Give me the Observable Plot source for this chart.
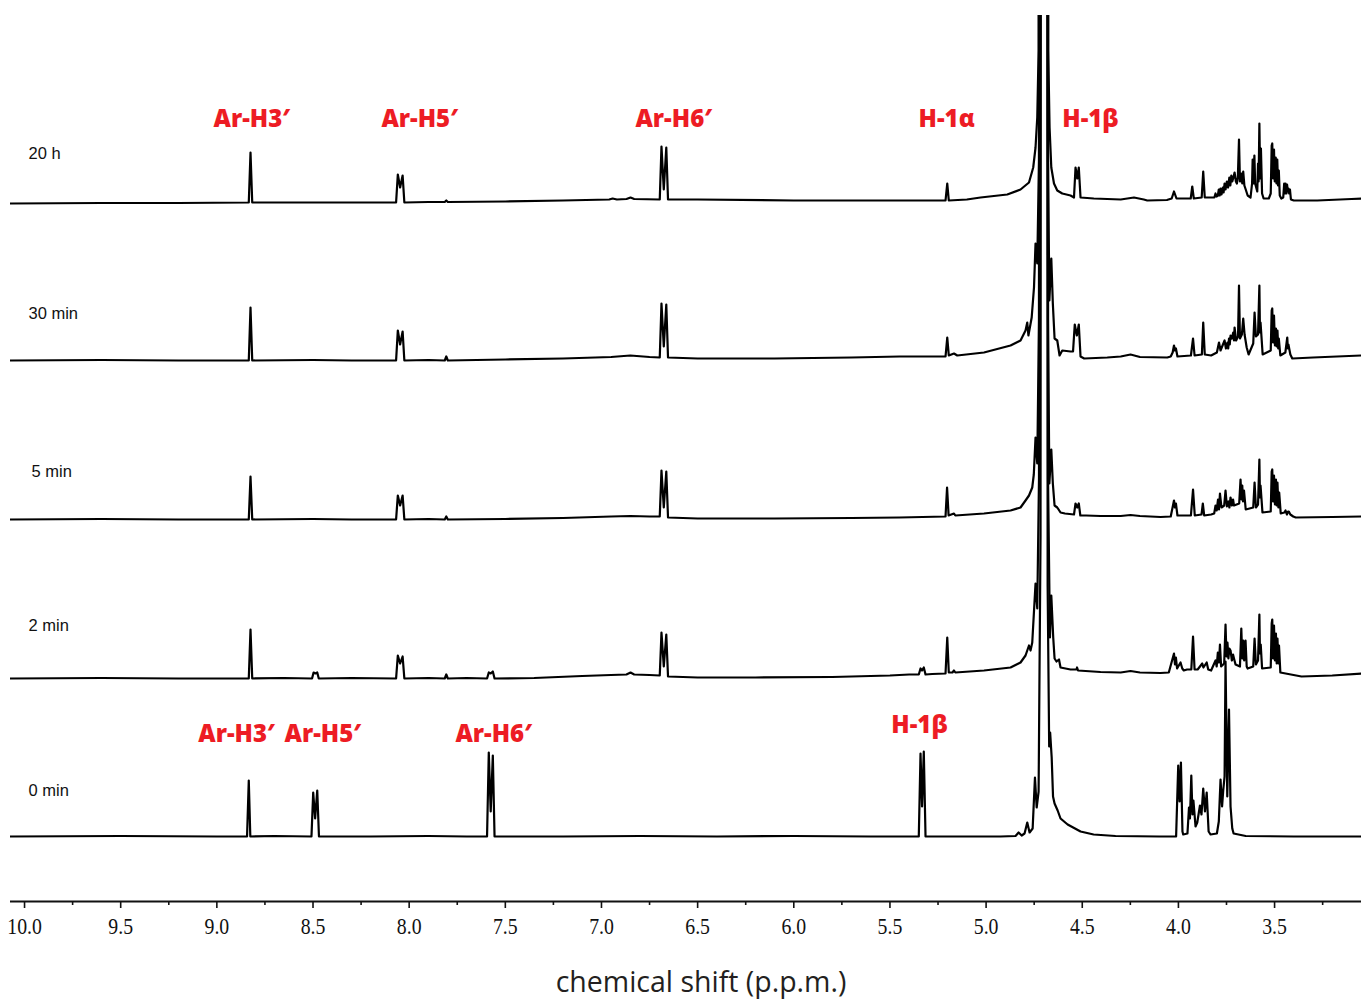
<!DOCTYPE html>
<html><head><meta charset="utf-8">
<script src="https://cdn.jsdelivr.net/npm/d3@7"></script>
<script src="https://cdn.jsdelivr.net/npm/@observablehq/plot@0.6"></script>
<style>html,body{margin:0;padding:0;background:#fff;} #chart{width:1361px;height:999px;overflow:hidden;}</style>
</head><body><div id="chart"></div>
<script>
// Spectrum names (bottom to top)
const spectrumNames = ["0 min", "2 min", "5 min", "30 min", "20 h"];

// Each spectrum: [chemical shift (ppm), intensity]
const spec0min = [
  [10.073,0],[9.5,0.5],[9.0,0],[8.843,0],[8.834,56],[8.826,0],[8.7,0.5],
  [8.508,0],[8.499,44],[8.489,18],[8.478,46],[8.469,0],[8.2,0],[7.9,0.5],[7.7,0],
  [7.595,0],[7.586,84],[7.576,25],[7.565,81],[7.556,0],[7.2,0],[6.8,0.5],[6.4,0],[6.0,0.5],[5.6,0],
  [5.350,0],[5.341,83],[5.333,30],[5.324,85],[5.315,0],[5.1,0],[4.925,0],
  [4.847,0.5],[4.831,4],[4.815,1],[4.800,3],[4.786,14],[4.774,4],[4.758,8],[4.746,59],[4.737,29],
  [4.727,45],[4.717,300],[4.709,3000],[4.688,3000],[4.680,250],[4.672,90],[4.667,104],[4.659,79],
  [4.652,40],[4.644,33],[4.628,26],[4.613,18],[4.576,12],[4.509,5],[4.441,2],[4.327,0.5],[4.1,0],
  [4.012,0],[4.001,71],[3.994,35],[3.987,74],[3.979,5],[3.975,2],[3.953,3],[3.945,29],[3.940,18],
  [3.933,61],[3.927,22],[3.922,36],[3.911,10],[3.902,14],[3.888,31],[3.880,22],[3.871,48],[3.862,25],
  [3.853,44],[3.843,5],[3.833,2],[3.800,3],[3.790,15],[3.781,57],[3.773,30],[3.767,46],[3.760,60],
  [3.755,175],[3.746,40],[3.737,127],[3.729,30],[3.720,8],[3.713,3],[3.65,0.5],[3.4,0],[3.048,0]
];
const spec2min = [
  [10.073,0],[9.6,0.5],[9.2,0],[8.834,0],[8.825,49],[8.816,0],[8.65,0.5],
  [8.505,0],[8.497,6],[8.487,5],[8.478,6],[8.470,0],[8.30,0.5],
  [8.068,0],[8.059,23],[8.047,15],[8.034,22],[8.025,0],[7.90,0.5],[7.815,0],[7.807,4],[7.799,0],[7.70,0.5],
  [7.595,0],[7.586,6],[7.576,5],[7.565,7],[7.556,0],[7.35,0.5],[7.10,2.5],[6.95,3.5],[6.87,4],[6.849,6],[6.83,4],
  [6.75,3.5],[6.697,3],[6.688,46],[6.676,12],[6.663,44],[6.654,2],[6.5,1],[6.2,1],[5.8,1.5],[5.5,3],[5.40,4],
  [5.350,4],[5.341,10],[5.333,8],[5.324,11],[5.315,4],[5.28,4.5],[5.211,5],[5.202,41],[5.194,6],
  [5.175,6],[5.167,8],[5.160,6],[5.011,8],[4.873,11],[4.821,16],[4.795,23],[4.777,33],[4.769,28],[4.760,36],
  [4.743,95],[4.734,70],[4.725,200],[4.719,3000],[4.683,3000],[4.678,200],[4.668,41],[4.661,83],[4.651,41],
  [4.644,20],[4.634,17],[4.621,19],[4.613,11],[4.561,9],[4.530,9],[4.527,11],[4.522,8],[4.405,6.5],
  [4.30,6],[4.249,7.5],[4.20,6],[4.093,5.5],[4.050,6],[4.023,25],[4.018,14],[4.013,21],[4.007,10],
  [3.989,16],[3.980,10],[3.972,8],[3.955,9],[3.933,9],[3.924,42],[3.916,9],[3.900,9],[3.876,15],[3.870,11],
  [3.853,16],[3.845,9],[3.830,8],[3.807,18],[3.801,12],[3.795,26],[3.789,16],[3.784,34],[3.778,12],[3.762,15],
  [3.755,54],[3.750,22],[3.745,36],[3.740,20],[3.735,30],[3.729,28],[3.722,18],[3.716,24],[3.711,20],[3.703,14],
  [3.680,12],[3.673,50],[3.668,20],[3.663,38],[3.658,18],[3.651,38],[3.645,12],
  [3.640,10],[3.611,12],[3.604,40],[3.597,14],[3.586,18],[3.579,64],[3.576,25],[3.572,34],[3.565,10],
  [3.520,11],[3.515,55],[3.512,59],[3.508,20],[3.503,53],[3.498,18],[3.493,45],[3.489,15],[3.485,40],
  [3.480,15],[3.477,33],[3.470,6],[3.36,2],[3.2,3],[3.048,5]
];
const spec5min = [
  [10.073,0],[9.6,0.5],[9.2,0],[8.834,0],[8.825,43],[8.816,0],[8.5,0.5],[8.3,0],
  [8.068,0],[8.059,24],[8.047,14],[8.034,24],[8.025,0],[7.90,0.5],[7.815,0],[7.807,3],[7.799,0],[7.5,0.5],
  [7.2,1.5],[6.95,3],[6.85,3.5],[6.75,3],[6.697,3],[6.688,49],[6.676,12],[6.663,48],[6.654,2],[6.5,1],
  [6.1,1],[5.7,1.5],[5.45,2],[5.211,3],[5.203,32],[5.195,4],[5.167,6],[5.160,4],[5.011,6],[4.873,9],
  [4.821,12],[4.795,19],[4.777,24],[4.760,32],[4.752,45],[4.743,82],[4.734,56],[4.725,200],[4.719,3000],
  [4.683,3000],[4.678,200],[4.671,36],[4.661,70],[4.653,36],[4.644,14],[4.630,12],[4.613,7],[4.590,6],
  [4.543,5],[4.535,16],[4.526,12],[4.518,16],[4.510,4],[4.48,4],[4.405,3.5],[4.30,3.5],[4.249,4.5],[4.20,3.5],
  [4.093,2.5],[4.040,3],[4.023,19],[4.018,12],[4.013,16],[4.005,4],[3.935,4],[3.924,30],[3.915,4],
  [3.880,5],[3.873,16],[3.866,4],[3.830,5],[3.814,6],[3.807,14],[3.801,9],[3.794,20],[3.789,10],[3.784,26],[3.776,12],
  [3.762,14],[3.755,29],[3.748,13],[3.740,18],[3.735,12],[3.729,22],[3.722,14],[3.716,20],[3.711,14],
  [3.684,16],[3.677,40],[3.672,20],[3.668,34],[3.664,18],[3.659,29],[3.650,10],
  [3.611,12],[3.604,37],[3.597,12],[3.586,15],[3.579,60],[3.576,22],[3.573,34],[3.563,7],
  [3.520,8],[3.515,48],[3.512,50],[3.508,18],[3.503,44],[3.498,15],[3.493,40],[3.489,14],[3.485,37],
  [3.480,12],[3.476,27],[3.468,6],[3.449,7],[3.443,9],[3.436,5],[3.430,8],[3.426,8],[3.418,5],
  [3.403,3],[3.39,2],[3.2,2.5],[3.048,3]
];
const spec30min = [
  [10.073,0],[9.6,0.5],[9.2,0],[8.834,0],[8.825,53],[8.816,0],[8.5,0.5],[8.3,0],
  [8.068,0],[8.059,30],[8.047,16],[8.034,29],[8.025,0],[7.90,0.5],[7.815,0],[7.807,4],[7.799,0],[7.5,1],
  [7.2,2],[6.95,3.5],[6.85,5],[6.75,3.5],[6.697,3],[6.688,57],[6.676,14],[6.663,56],[6.654,3],[6.5,2],
  [6.1,2],[5.7,3],[5.45,4],[5.211,4],[5.202,23],[5.194,5],[5.167,7],[5.15,5],[5.011,8],[4.873,15],
  [4.821,20],[4.795,30],[4.786,38],[4.780,25],[4.763,43],[4.751,73],[4.743,117],[4.734,97],[4.725,200],
  [4.719,3000],[4.683,3000],[4.678,200],[4.671,60],[4.661,102],[4.653,57],[4.644,22],[4.630,20],[4.618,5],
  [4.604,10],[4.561,9],[4.548,9],[4.539,36],[4.528,25],[4.518,36],[4.509,4],[4.49,2],[4.370,3],[4.30,4],
  [4.249,6],[4.20,3.5],[4.058,3],[4.040,4],[4.030,8],[4.023,15],[4.018,10],[4.013,12],[4.005,4],
  [3.935,5],[3.924,22],[3.916,5],[3.878,6],[3.871,38],[3.863,6],[3.830,5],[3.800,8],[3.789,18],[3.781,10],
  [3.760,20],[3.753,12],[3.745,18],[3.741,12],[3.737,22],[3.733,16],[3.729,25],[3.722,22],[3.715,28],[3.711,20],
  [3.708,33],[3.700,20],[3.690,24],[3.685,75],
  [3.680,22],[3.670,26],[3.663,42],[3.656,26],[3.645,13],[3.635,6],[3.611,17],[3.604,48],[3.597,24],
  [3.586,26],[3.579,75],[3.576,28],[3.573,38],[3.562,6],
  [3.520,10],[3.515,50],[3.512,52],[3.508,18],[3.503,45],[3.498,15],[3.493,32],[3.489,14],[3.485,30],
  [3.481,12],[3.478,22],[3.470,5],[3.444,8],[3.434,23],[3.431,12],[3.428,16],[3.418,6],[3.408,2],[3.30,3],[3.048,5]
];
const spec20h = [
  [10.073,0],[9.6,0.5],[9.2,0.5],[8.834,1],[8.825,51],[8.816,1],[8.5,1],[8.3,1],
  [8.068,1],[8.059,29],[8.047,16],[8.034,28],[8.025,1],[7.90,1.5],[7.815,1.5],[7.807,3],[7.799,1.5],[7.5,2],
  [7.2,3],[6.96,4],[6.942,5],[6.92,4],[6.87,4.5],[6.849,6],[6.83,4.5],[6.697,4],[6.688,57],[6.676,14],
  [6.663,56],[6.654,4],[6.5,4],[6.0,3],[5.5,3],[5.211,3],[5.202,20],[5.194,3],[5.10,4],[5.029,6],
  [4.890,9],[4.821,14],[4.777,21],[4.755,36],[4.743,56],[4.734,86],[4.727,153],[4.724,3000],[4.679,3000],
  [4.677,153],[4.670,76],[4.661,36],[4.647,20],[4.630,13],[4.604,10],[4.561,8],[4.543,6],[4.535,36],
  [4.526,25],[4.518,36],[4.509,6],[4.440,5],[4.30,4],[4.231,6],[4.18,4],[4.162,3],[4.06,3.5],[4.035,5],
  [4.023,12],[4.010,5],[3.936,5],[3.928,17],[3.920,5],[3.879,6],[3.871,32],[3.863,6],[3.830,6],[3.813,6],
  [3.807,10],[3.802,7],[3.795,8],[3.790,14],[3.786,8],[3.781,15],[3.776,9],[3.769,16],[3.765,11],
  [3.760,20],[3.755,14],[3.748,22],[3.742,16],[3.735,26],[3.730,18],[3.725,28],[3.720,22],[3.714,26],
  [3.708,31],[3.701,22],[3.696,20],[3.691,26],[3.685,64],[3.680,22],[3.673,30],[3.668,20],[3.663,32],
  [3.657,18],[3.650,14],[3.640,8],[3.625,6],[3.617,20],[3.614,44],[3.610,20],[3.605,48],[3.601,20],
  [3.590,12],[3.586,40],[3.583,22],[3.579,80],[3.575,25],[3.571,55],[3.565,10],[3.557,5],[3.530,5],
  [3.520,10],[3.515,58],[3.512,60],[3.508,25],[3.503,54],[3.499,22],[3.494,46],[3.490,20],[3.486,44],
  [3.482,18],[3.478,33],[3.473,8],[3.465,5],[3.455,6],[3.450,20],[3.446,10],[3.443,20],[3.438,10],
  [3.435,19],[3.431,12],[3.428,15],[3.424,10],[3.420,14],[3.415,4],[3.40,3],[3.278,3],[3.10,4.5],[3.048,5]
];

// Axis ticks
const majorTicks = [10.0, 9.5, 9.0, 8.5, 8.0, 7.5, 7.0, 6.5, 6.0, 5.5, 5.0, 4.5, 4.0, 3.5];
const minorTicks = [9.75, 9.25, 8.75, 8.25, 7.75, 7.25, 6.75, 6.25, 5.75, 5.25, 4.75, 4.25, 3.75, 3.25];

// Peak assignments
const topLabels = ["Ar-H3\u2032", "Ar-H5\u2032", "Ar-H6\u2032", "H-1\u03b1", "H-1\u03b2"];
const topLabelShifts = [8.819, 7.946, 6.625, 5.205, 4.457];
const bottomLabels = ["Ar-H3\u2032", "Ar-H5\u2032", "Ar-H6\u2032", "H-1\u03b2"];
const bottomLabelShifts = [8.898, 8.450, 7.561, 5.346];

// ---- layout ----
const stackStep = [0, 158, 317, 476, 633];      // vertical offset of each trace
const nameLift = [46, 53, 48, 47, 50];           // name label height above trace
const nameDx = [18, 18, 21, 18, 18];
const topLabelY = 717, bottomLabelY = [102, 102, 102, 111];
const xDomain = [10.073, 3.048];
const yDomain = [-65, 821];

const spectra = [spec0min, spec2min, spec5min, spec30min, spec20h];
const rows = spectra.flatMap((pts, i) => pts.map(([ppm, v]) => ({series: spectrumNames[i], ppm, y: v + stackStep[i]})));
const nameRows = spectrumNames.map((n, i) => ({name: n, y: stackStep[i] + nameLift[i], dx: nameDx[i]}));
const labelRows = topLabels.map((t, i) => ({t, x: topLabelShifts[i], y: topLabelY}))
  .concat(bottomLabels.map((t, i) => ({t, x: bottomLabelShifts[i], y: bottomLabelY[i]})));

const chart = Plot.plot({
  width: 1361, height: 999,
  marginLeft: 10, marginRight: 0, marginTop: 15, marginBottom: 98,
  x: {domain: xDomain, label: null},
  y: {domain: yDomain, axis: null, label: null},
  style: {background: "white", fontFamily: "'Liberation Serif', serif", overflow: "visible"},
  marks: [
    Plot.line(rows, {x: "ppm", y: "y", z: "series", stroke: "black", strokeWidth: 2.2, clip: true, strokeLinejoin: "round"}),
    Plot.ruleY([yDomain[0]], {stroke: "#111", strokeWidth: 2.2}),
    Plot.axisX({ticks: majorTicks, tickSize: 7, tickPadding: 9, tickFormat: d3.format(".1f"), fontSize: 23, strokeWidth: 1.6, stroke: "#111", fill: "#111", label: null}),
    Plot.axisX({ticks: minorTicks, tickSize: 4, tickFormat: () => "", strokeWidth: 1.6, stroke: "#111", label: null}),
    Plot.text(nameRows.filter(d => d.dx === 18), {x: () => xDomain[0], y: "y", text: "name", textAnchor: "start", dx: 18, fontSize: 16.5, fontFamily: "'Liberation Sans', Arial, sans-serif", fill: "#111"}),
    Plot.text(nameRows.filter(d => d.dx !== 18), {x: () => xDomain[0], y: "y", text: "name", textAnchor: "start", dx: 21, fontSize: 16.5, fontFamily: "'Liberation Sans', Arial, sans-serif", fill: "#111"}),
    Plot.text(labelRows, {x: "x", y: "y", text: "t", fill: "#ed1c24", fontSize: 24, fontWeight: 800, fontFamily: "'Open Sans', 'Noto Sans', sans-serif"}),
    Plot.text(["chemical shift (p.p.m.)"], {frameAnchor: "bottom", lineAnchor: "middle", dx: 15, dy: 81, fontSize: 28.5, fontFamily: "'Open Sans', 'Noto Sans', sans-serif", fill: "#231f20"})
  ]
});
document.getElementById("chart").appendChild(chart);
// condense the serif tick labels horizontally, as in the original figure
chart.querySelectorAll("g[aria-label='x-axis tick label'] text").forEach(t => {
  const w = t.getComputedTextLength();
  if (w > 0) { t.setAttribute("textLength", (w * 0.86).toFixed(1)); t.setAttribute("lengthAdjust", "spacingAndGlyphs"); }
});
</script></body></html>
